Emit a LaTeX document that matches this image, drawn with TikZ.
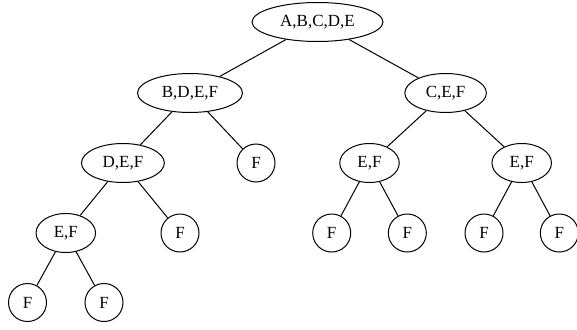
\documentclass[tikz,border=0pt]{standalone}
\usepackage{fontspec}
\setmainfont{Liberation Serif}
\usetikzlibrary{shapes.geometric}
\begin{document}
\begin{tikzpicture}[x=1pt, y=-1pt, line width=1pt,
    set/.style={draw, ellipse, inner xsep=9pt, inner ysep=0pt, minimum height=39pt, font=\fontsize{17}{19}\selectfont},
    leaf/.style={draw, circle, inner sep=0pt, minimum size=38pt, font=\fontsize{17}{19}\selectfont}]
    \useasboundingbox (0,0) rectangle (577,329);
    % levels from the top
    \node(abcde) at (317.5,22) [set] {A,B,C,D,E};
    \node(bdef) at (190,93) [set] {B,D,E,F};
    \node(cef) at (445.6,93) [set] {C,E,F};
    \node(def) at (122.9,163) [set] {D,E,F};
    \node(fa) at (256,163) [leaf] {F};
    \node(efa) at (369.5,163) [set] {E,F};
    \node(efb) at (521.7,163) [set] {E,F};
    \node(efc) at (65.8,233) [set] {E,F};
    \node(fb) at (180,233) [leaf] {F};
    \node(fc) at (331.7,233) [leaf] {F};
    \node(fd) at (407.3,233) [leaf] {F};
    \node(fe) at (484,233) [leaf] {F};
    \node(ff) at (559.3,233) [leaf] {F};
    \node(fg) at (27.5,302.5) [leaf] {F};
    \node(fh) at (104,302.5) [leaf] {F};
    \draw(abcde) to (bdef);
    \draw(abcde) to (cef);
    \draw(bdef) to (def);
    \draw(bdef) to (fa);
    \draw(cef) to (efa);
    \draw(cef) to (efb);
    \draw(def) to (efc);
    \draw(def) to (fb);
    \draw(efa) to (fc);
    \draw(efa) to (fd);
    \draw(efb) to (fe);
    \draw(efb) to (ff);
    \draw(efc) to (fg);
    \draw(efc) to (fh);
\end{tikzpicture}
\end{document}
